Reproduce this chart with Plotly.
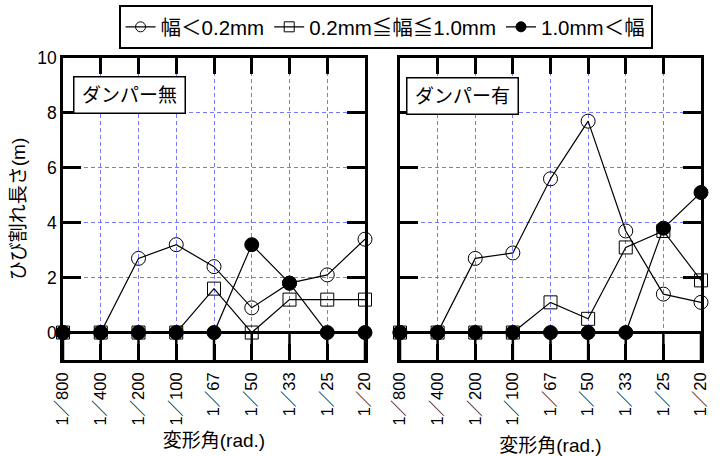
import plotly.graph_objects as go

categories = ["1/800", "1/400", "1/200", "1/100", "1/67", "1/50", "1/33", "1/25", "1/20"]
tick_labels = ["1／800", "1／400", "1／200", "1／100", "1／67", "1／50", "1／33", "1／25", "1／20"]
series_names = ["幅＜0.2mm", "0.2mm≦幅≦1.0mm", "1.0mm＜幅"]
panel_titles = ["ダンパー無", "ダンパー有"]
y_ticks = [0, 2, 4, 6, 8, 10]

no_damper_small = [0, 0, 2.7, 3.2, 2.4, 0.9, 1.8, 2.1, 3.4]
no_damper_mid = [0, 0, 0, 0, 1.6, 0, 1.2, 1.2, 1.2]
no_damper_large = [0, 0, 0, 0, 0, 3.2, 1.8, 0, 0]

damper_small = [0, 0, 2.7, 2.9, 5.6, 7.7, 3.7, 1.4, 1.1]
damper_mid = [0, 0, 0, 0, 1.1, 0.5, 3.1, 3.7, 1.9]
damper_large = [0, 0, 0, 0, 0, 0, 0, 3.8, 5.1]

FONT = "Liberation Sans, Arial, Noto Sans CJK JP"
styles = [
    dict(symbol="circle-open", size=14),
    dict(symbol="square-open", size=13),
    dict(symbol="circle", size=14),
]

fig = go.Figure()
panels = [
    ("x", "y", [no_damper_small, no_damper_mid, no_damper_large]),
    ("x2", "y2", [damper_small, damper_mid, damper_large]),
]
for xa, ya, data in panels:
    for name, vals, st in zip(series_names, data, styles):
        fig.add_trace(go.Scatter(
            x=categories, y=vals, name=name, mode="lines+markers",
            xaxis=xa, yaxis=ya, showlegend=False, cliponaxis=False,
            line=dict(color="black", width=1.2),
            marker=dict(symbol=st["symbol"], size=st["size"], color="black",
                        line=dict(color="black", width=1)),
        ))

# legend entries (small symbols as in the original legend)
for name, st in zip(series_names, styles):
    fig.add_trace(go.Scatter(
        x=[None], y=[None], name=name, mode="lines+markers", xaxis="x", yaxis="y",
        line=dict(color="black", width=1.2),
        marker=dict(symbol=st["symbol"], size=10, color="black",
                    line=dict(color="black", width=1)),
    ))

grid_blue = "#7777ff"
xcommon = dict(
    type="category", categoryorder="array", categoryarray=categories,
    range=[0, len(categories) - 1], tickmode="array", tickvals=categories,
    ticktext=tick_labels, tickangle=-90, ticks="inside", ticklen=16,
    tickwidth=2.5, tickcolor="black", showline=True, linewidth=2.5,
    linecolor="black", mirror="ticks", showgrid=True, gridcolor=grid_blue,
    griddash="4px,3px", gridwidth=1, automargin=False, ticklabelstandoff=3,
    tickfont=dict(family=FONT, size=16.5, color="black"),
    title=dict(text="変形角(rad.)", font=dict(family=FONT, size=19, color="black"), standoff=10),
)
ycommon = dict(
    range=[-1, 10], tickmode="array", tickvals=y_ticks, ticks="inside",
    ticklen=18, tickwidth=2.5, tickcolor="black", showline=True,
    linewidth=2.5, linecolor="black", mirror="ticks", showgrid=True,
    gridcolor=grid_blue, griddash="4px,3px", gridwidth=1, zeroline=True,
    zerolinecolor="black", zerolinewidth=2.5, automargin=False,
    tickfont=dict(family=FONT, size=17.5, color="black"),
)

fig.update_layout(
    width=722, height=456, margin=dict(l=0, r=0, t=0, b=0),
    paper_bgcolor="white", plot_bgcolor="white",
    xaxis=dict(xcommon, domain=[63 / 722, 365 / 722], anchor="y"),
    yaxis=dict(ycommon, domain=[96 / 456, 398 / 456], anchor="x",
               title=dict(text="ひび割れ長さ(m)", font=dict(family=FONT, size=19, color="black"), standoff=7)),
    xaxis2=dict(xcommon, domain=[400 / 722, 701 / 722], anchor="y2"),
    yaxis2=dict(ycommon, domain=[96 / 456, 398 / 456], anchor="x2", showticklabels=False),
    legend=dict(orientation="h", x=0.534, xanchor="center", y=1 - 5 / 456, yanchor="top",
                bordercolor="black", borderwidth=2, bgcolor="white",
                font=dict(family=FONT, size=20.5, color="black"), itemsizing="trace",
                tracegroupgap=0),
)
fig.layout.xaxis2.title.standoff = 16

shapes = []
for xa, ya in [("x", "y"), ("x2", "y2")]:
    for c in categories:
        shapes.append(dict(type="line", xref=xa, yref=ya, x0=c, x1=c, y0=-1, y1=0,
                           line=dict(color="black", width=2.5), layer="above"))
fig.update_layout(shapes=shapes)

for i, (xa, title) in enumerate([("x", panel_titles[0]), ("x2", panel_titles[1])]):
    ya = "y" if xa == "x" else "y2"
    fig.add_annotation(
        text=title, xref=f"{xa} domain", yref=f"{ya} domain",
        x=0.033 if i == 0 else 0.02, y=0.94 if i == 0 else 0.937,
        xanchor="left", yanchor="top", showarrow=False, align="center",
        width=108, height=33, bgcolor="white", bordercolor="black",
        borderwidth=1.5, borderpad=1,
        font=dict(family=FONT, size=19, color="black"),
    )

fig.write_html("out.html", config={"displayModeBar": False},
               post_script="document.body.style.margin='0';")
